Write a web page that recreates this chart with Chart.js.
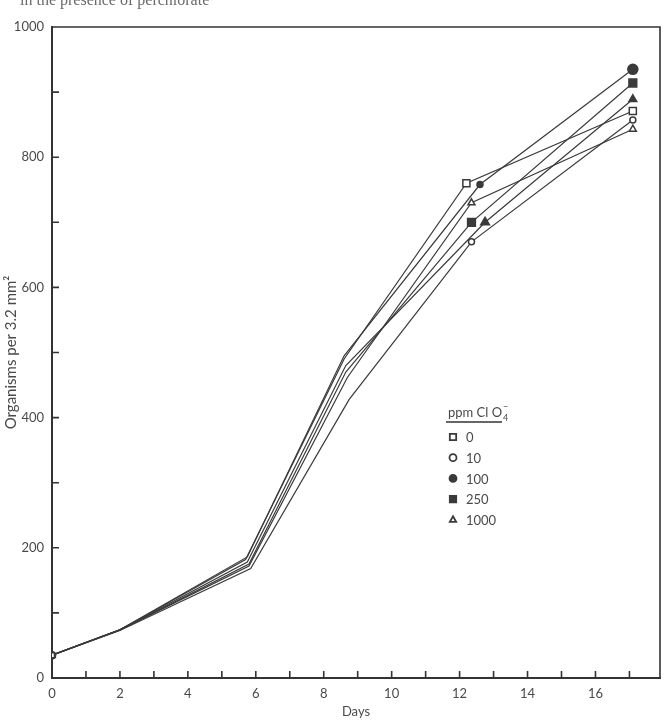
<!DOCTYPE html>
<html>
<head>
<meta charset="utf-8">
<script src="https://cdn.jsdelivr.net/npm/chart.js@4/dist/chart.umd.min.js"></script>
<style>
  body { margin: 0; background: #fff; }
  canvas { display: block; }
</style>
</head>
<body>
<canvas id="growth-chart" width="667" height="724"></canvas>
<script>
// Tick labels
const xTickLabels = [0, 2, 4, 6, 8, 10, 12, 14, 16];
const yTickLabels = [0, 200, 400, 600, 800, 1000];

// Legend entries (ppm ClO4-)
const seriesNames = ['0', '10', '100', '250', '1000'];

// Sampling days and counts per treatment
const days0 = [0, 2, 5.7, 8.6, 12.2, 17.1];
const ppm0 = [35, 74, 182, 490, 760, 871];

const days10 = [0, 2, 5.85, 8.75, 12.35, 17.1];
const ppm10 = [35, 73, 168, 428, 670, 857];

const days100 = [0, 2, 5.75, 8.6, 12.6, 17.1];
const ppm100 = [35, 74, 186, 495, 758, 935];

const days250 = [0, 2, 5.8, 8.65, 12.35, 17.1];
const ppm250 = [35, 74, 175, 470, 700, 914];

const days1000 = [0, 2, 5.8, 8.7, 12.35, 17.1];
const ppm1000 = [35, 74, 172, 462, 730, 843];

// extra series drawn with filled triangles (not listed in the legend)
const daysExtra = [0, 2, 5.75, 8.65, 12.75, 17.1];
const ppmExtra = [35, 74, 178, 480, 700, 889];

const INK = '#3a3a3a';
const TEXT = '#4a4a4a';
const FONT = 'Lato, "Open Sans", sans-serif';

function toPoints(days, vals) {
    return days.map((d, i) => ({ x: d, y: vals[i] }));
}

// markers only at the first and the last two samples, like the printed figure
function markerRadius(rMid, rEnd) {
    return ctx => {
        const i = ctx.dataIndex;
        if (i === 0) return 3.5;
        if (i === 4) return rMid;
        if (i === 5) return rEnd;
        return 0;
    };
}

function makeSet(label, days, vals, style, filled, rMid, rEnd) {
    return {
        label: label,
        data: toPoints(days, vals),
        borderColor: INK,
        borderWidth: 1.2,
        pointStyle: style,
        pointBackgroundColor: filled ? INK : '#fff',
        pointBorderColor: INK,
        pointBorderWidth: 1.5,
        pointRadius: markerRadius(rMid, rEnd),
        tension: 0,
        filled: filled
    };
}

const datasets = [
    makeSet(seriesNames[0], days0, ppm0, 'rect', false, 5, 5),
    makeSet(seriesNames[1], days10, ppm10, 'circle', false, 3, 3),
    makeSet(seriesNames[2], days100, ppm100, 'circle', true, 3, 5),
    makeSet(seriesNames[3], days250, ppm250, 'rect', true, 5.5, 5.5),
    makeSet(seriesNames[4], days1000, ppm1000, 'triangle', false, 4, 4),
    makeSet('', daysExtra, ppmExtra, 'triangle', true, 5, 4.5)
];

function drawMarker(ctx, style, x, y, r, filled) {
    ctx.save();
    ctx.beginPath();
    if (style === 'rect') {
        const s = r * Math.SQRT1_2;
        ctx.rect(x - s, y - s, 2 * s, 2 * s);
    } else if (style === 'triangle') {
        ctx.moveTo(x, y - r);
        ctx.lineTo(x + r * 0.9, y + r * 0.6);
        ctx.lineTo(x - r * 0.9, y + r * 0.6);
        ctx.closePath();
    } else {
        ctx.arc(x, y, r, 0, Math.PI * 2);
    }
    ctx.fillStyle = filled ? INK : '#fff';
    ctx.strokeStyle = INK;
    ctx.lineWidth = 1.8;
    ctx.fill();
    ctx.stroke();
    ctx.restore();
}

const framePlugin = {
    id: 'frame',
    afterDraw(chart) {
        const ctx = chart.ctx;
        const a = chart.chartArea;
        const xs = chart.scales.x;
        const ys = chart.scales.y;
        ctx.save();

        // top and right edges of the box
        ctx.strokeStyle = '#333';
        ctx.lineWidth = 1.6;
        ctx.beginPath();
        ctx.moveTo(a.left, a.top);
        ctx.lineTo(a.right, a.top);
        ctx.lineTo(a.right, a.bottom);
        ctx.stroke();

        // inward tick marks
        ctx.lineWidth = 1.6;
        ctx.beginPath();
        xs.ticks.forEach(t => {
            if (!Number.isInteger(t.value) || t.value === 0) return;
            const px = xs.getPixelForValue(t.value);
            ctx.moveTo(px, a.bottom);
            ctx.lineTo(px, a.bottom - 7);
        });
        ys.ticks.forEach(t => {
            if (t.value === 0 || t.value === 1000) return;
            const py = ys.getPixelForValue(t.value);
            ctx.moveTo(a.left, py);
            ctx.lineTo(a.left + 7, py);
        });
        ctx.stroke();

        // legend
        ctx.fillStyle = TEXT;
        ctx.textBaseline = 'middle';
        ctx.font = '13px ' + FONT;
        ctx.textAlign = 'left';
        const lx = 448;
        ctx.fillText('ppm Cl O', lx, 413);
        const w = ctx.measureText('ppm Cl O').width;
        ctx.font = '9px ' + FONT;
        ctx.fillText('4', lx + w + 1, 418);
        ctx.fillText('\u2212', lx + w + 1, 407);
        ctx.strokeStyle = '#333';
        ctx.lineWidth = 1.3;
        ctx.beginPath();
        ctx.moveTo(446, 422);
        ctx.lineTo(502, 422);
        ctx.stroke();

        ctx.font = '13px ' + FONT;
        seriesNames.forEach((name, i) => {
            const ds = chart.data.datasets[i];
            const y = 437 + i * 20.7;
            drawMarker(ctx, ds.pointStyle, 453, y, ds.pointStyle === 'rect' ? 4.5 : 3.5, ds.filled);
            ctx.fillStyle = TEXT;
            ctx.fillText(name, 466, y + 1);
        });

        // caption line of the page, cut off at the top edge
        ctx.font = '16px "Liberation Serif", serif';
        ctx.fillStyle = '#6a6a6a';
        ctx.textBaseline = 'alphabetic';
        ctx.fillText('in the presence of perchlorate', 20, 5);

        ctx.restore();
    }
};

new Chart(document.getElementById('growth-chart'), {
    type: 'line',
    data: { datasets: datasets },
    options: {
        responsive: false,
        animation: false,
        layout: { padding: { top: 27, right: 4, left: 0, bottom: 0 } },
        plugins: { legend: { display: false }, tooltip: { enabled: false } },
        scales: {
            x: {
                type: 'linear',
                min: 0,
                max: 17.9,
                afterFit: s => { s.height = 46; },
                ticks: {
                    stepSize: 1,
                    includeBounds: false,
                    autoSkip: false,
                    maxRotation: 0,
                    padding: 8,
                    color: TEXT,
                    font: { family: FONT, size: 13 },
                    callback: v => xTickLabels.includes(v) ? String(v) : ''
                },
                grid: { display: false, drawTicks: false },
                border: { display: true, color: '#333', width: 2 },
                title: {
                    display: true,
                    text: 'Days',
                    color: TEXT,
                    font: { family: FONT, size: 13 },
                    padding: { top: 0, bottom: 4 }
                }
            },
            y: {
                min: 0,
                max: 1000,
                afterFit: s => { s.width = 52; },
                ticks: {
                    stepSize: 100,
                    padding: 8,
                    color: TEXT,
                    font: { family: FONT, size: 13 },
                    callback: v => yTickLabels.includes(v) ? String(v) : ''
                },
                grid: { display: false, drawTicks: false },
                border: { display: true, color: '#333', width: 2 },
                title: {
                    display: true,
                    text: 'Organisms per 3.2 mm\u00B2',
                    color: TEXT,
                    font: { family: FONT, size: 15 },
                    padding: { top: 2, bottom: 0 }
                }
            }
        }
    },
    plugins: [framePlugin]
});
</script>
</body>
</html>
